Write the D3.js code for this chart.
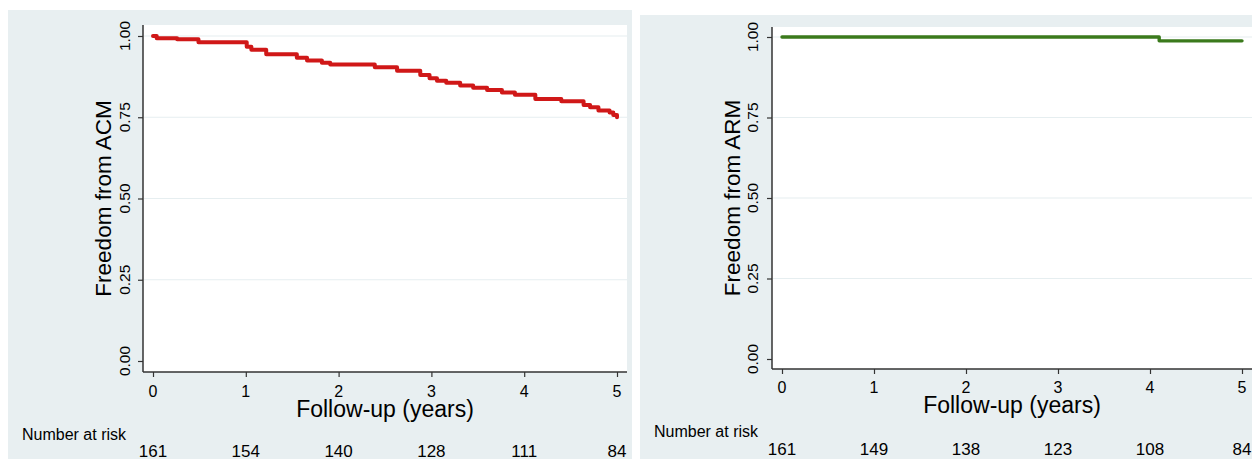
<!DOCTYPE html>
<html>
<head>
<meta charset="utf-8">
<script src="https://cdn.jsdelivr.net/npm/d3@7"></script>
<style>
  body { margin: 0; background: #ffffff; }
  svg { display: block; }
  text { font-family: "Liberation Sans", Arial, sans-serif; fill: #000; }
</style>
</head>
<body>
<div id="chart"></div>
<script>
// Kaplan-Meier steps
var acmTimes = [0, 0.04, 0.26, 0.49, 1.01, 1.06, 1.22, 1.55, 1.66, 1.82, 1.91, 2.39, 2.63, 2.88, 2.98, 3.06, 3.16, 3.31, 3.45, 3.60, 3.76, 3.90, 4.12, 4.40, 4.64, 4.71, 4.80, 4.92, 4.96, 5.0];
var acmSurv  = [1.00, 0.993, 0.990, 0.981, 0.967, 0.958, 0.944, 0.933, 0.925, 0.918, 0.912, 0.904, 0.893, 0.880, 0.870, 0.862, 0.856, 0.848, 0.841, 0.834, 0.826, 0.819, 0.806, 0.799, 0.788, 0.781, 0.771, 0.765, 0.757, 0.750];

var armTimes = [0, 4.10, 5.0];
var armSurv  = [1.00, 0.988, 0.988];

var acmRisk = [161, 154, 140, 128, 111, 84];
var armRisk = [161, 149, 138, 123, 108, 84];

var xTicks = [0, 1, 2, 3, 4, 5];
var yTicks = [0, 0.25, 0.5, 0.75, 1];
var yGrid  = [0.25, 0.5, 0.75, 1];

var width = 1252, height = 459;
var narrow = '"Liberation Sans Narrow", "Liberation Sans", Arial, sans-serif';

var svg = d3.select('#chart').append('svg')
	.attr('width', width)
	.attr('height', height);

var panels = [
	{
		bg: [8, 10, 632, 459], plot: [143, 25, 627, 372],
		xr: [153, 617], yr: [361, 36],
		times: acmTimes, surv: acmSurv, risk: acmRisk,
		color: '#d01818', lw: 4,
		ytitle: 'Freedom from ACM', ytitleX: 111, ytickX: 130, xtickY: 397, xtitleY: 417,
		riskLabelX: 22, riskLabelY: 440, riskY: 457
	},
	{
		bg: [640, 15, 1252, 459], plot: [772, 27, 1252, 369],
		xr: [782, 1242], yr: [359, 37],
		times: armTimes, surv: armSurv, risk: armRisk,
		color: '#3b7a1c', lw: 3.4,
		ytitle: 'Freedom from ARM', ytitleX: 740, ytickX: 758, xtickY: 393, xtitleY: 413,
		riskLabelX: 654, riskLabelY: 437, riskY: 455
	}
];

panels.forEach(function(p)
{
	var g = svg.append('g');

	g.append('rect')
		.attr('x', p.bg[0]).attr('y', p.bg[1])
		.attr('width', p.bg[2] - p.bg[0]).attr('height', p.bg[3] - p.bg[1])
		.attr('fill', '#e8eff1');

	g.append('rect')
		.attr('x', p.plot[0]).attr('y', p.plot[1])
		.attr('width', p.plot[2] - p.plot[0]).attr('height', p.plot[3] - p.plot[1])
		.attr('fill', '#ffffff');

	var x = d3.scaleLinear().domain([0, 5]).range(p.xr);
	var y = d3.scaleLinear().domain([0, 1]).range(p.yr);

	// grid
	g.selectAll('line.grid')
		.data(yGrid)
		.enter().append('line')
			.attr('class', 'grid')
			.attr('x1', p.plot[0] + 1).attr('x2', p.plot[2])
			.attr('y1', d => y(d)).attr('y2', d => y(d))
			.attr('stroke', '#e6eef0')
			.attr('stroke-width', 1.2);

	// axes
	var yAxis = d3.axisLeft(y).tickValues(yTicks).tickSize(5).tickFormat('');
	g.append('g')
		.attr('transform', 'translate(' + p.plot[0] + ',0)')
		.call(yAxis)
		.call(a => a.select('.domain').remove());

	var xAxis = d3.axisBottom(x).tickValues(xTicks).tickSize(5).tickFormat('');
	g.append('g')
		.attr('transform', 'translate(0,' + p.plot[3] + ')')
		.call(xAxis)
		.call(a => a.select('.domain').remove());

	g.selectAll('.tick line').attr('stroke', '#333').attr('stroke-width', 1.2);

	g.append('line')
		.attr('x1', p.plot[0]).attr('x2', p.plot[0])
		.attr('y1', p.plot[1]).attr('y2', p.plot[3])
		.attr('stroke', '#333').attr('stroke-width', 1.5);
	g.append('line')
		.attr('x1', p.plot[0]).attr('x2', p.plot[2])
		.attr('y1', p.plot[3]).attr('y2', p.plot[3])
		.attr('stroke', '#333').attr('stroke-width', 1.5);

	// y tick labels (rotated)
	g.selectAll('text.ytick')
		.data(yTicks)
		.enter().append('text')
			.attr('class', 'ytick')
			.attr('transform', d => 'translate(' + p.ytickX + ',' + y(d) + ') rotate(-90)')
			.attr('text-anchor', 'middle')
			.style('font-size', '15.5px')
			.style('font-family', narrow)
			.text(d => d3.format('.2f')(d));

	// x tick labels
	g.selectAll('text.xtick')
		.data(xTicks)
		.enter().append('text')
			.attr('class', 'xtick')
			.attr('x', d => x(d))
			.attr('y', p.xtickY)
			.attr('text-anchor', 'middle')
			.style('font-size', '16px')
			.style('font-family', narrow)
			.text(d => d);

	// titles
	g.append('text')
		.attr('transform', 'translate(' + p.ytitleX + ',' + ((y(0) + y(1)) / 2) + ') rotate(-90)')
		.attr('text-anchor', 'middle')
		.style('font-size', '22.5px')
		.text(p.ytitle);

	g.append('text')
		.attr('x', (x(0) + x(5)) / 2)
		.attr('y', p.xtitleY)
		.attr('text-anchor', 'middle')
		.style('font-size', '23px')
		.style('font-family', narrow)
		.text('Follow-up (years)');

	// number at risk
	g.append('text')
		.attr('x', p.riskLabelX)
		.attr('y', p.riskLabelY)
		.style('font-size', '16px')
		.style('font-family', narrow)
		.text('Number at risk');

	g.selectAll('text.risk')
		.data(p.risk)
		.enter().append('text')
			.attr('class', 'risk')
			.attr('x', (d, i) => x(xTicks[i]))
			.attr('y', p.riskY)
			.attr('text-anchor', 'middle')
			.style('font-size', '17px')
			.style('font-family', narrow)
			.text(d => d);

	// survival curve
	var pts = p.times.map((t, i) => [t, p.surv[i]]);
	var line = d3.line()
		.x(d => x(d[0]))
		.y(d => y(d[1]))
		.curve(d3.curveStepAfter);

	g.append('path')
		.datum(pts)
		.attr('d', line)
		.attr('fill', 'none')
		.attr('stroke', p.color)
		.attr('stroke-width', p.lw)
		.attr('stroke-linejoin', 'round')
		.attr('stroke-linecap', 'round');
});
</script>
</body>
</html>
